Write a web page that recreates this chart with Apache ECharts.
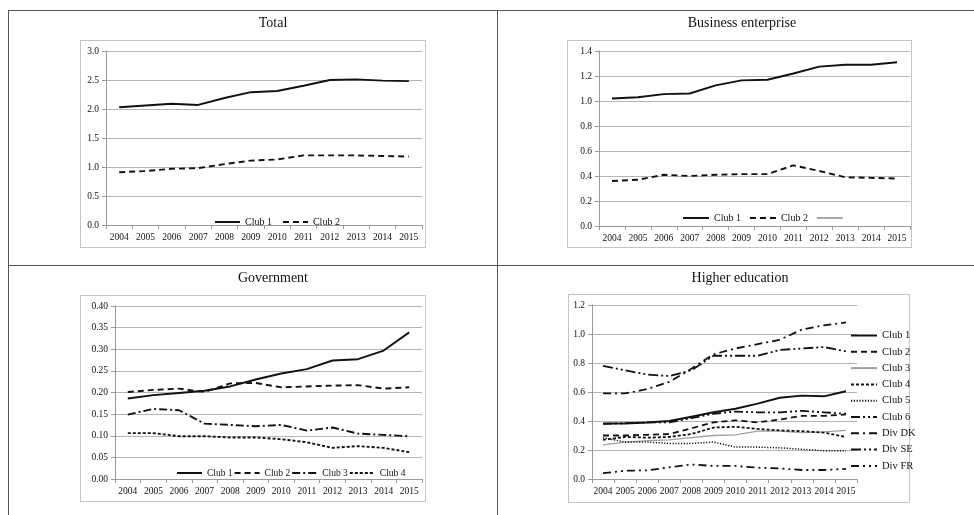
<!DOCTYPE html>
<html>
<head>
<meta charset="utf-8">
<script src="https://cdn.jsdelivr.net/npm/echarts@6/dist/echarts.min.js"></script>
<style>
  html, body { margin:0; padding:0; background:#fff; }
  #wrap { position:relative; width:974px; height:515px; overflow:hidden; background:#fff; }
  .chart { position:absolute; left:0; top:0; width:974px; height:515px; }
  .hl { position:absolute; height:0; border-top:1.5px solid #555; }
  .vl { position:absolute; width:0; border-left:1.5px solid #555; }
  .box { position:absolute; border:1px solid #c4c4c4; box-sizing:border-box; }
</style>
</head>
<body>
<div id="wrap">
  <div class="hl" style="left:9px; top:10px; width:965px;"></div>
  <div class="hl" style="left:9px; top:265px; width:965px;"></div>
  <div class="vl" style="left:8px; top:10px; height:505px;"></div>
  <div class="vl" style="left:497px; top:10px; height:505px;"></div>
  <div class="box" style="left:80px; top:40px; width:346px; height:208px;"></div>
  <div class="box" style="left:567px; top:40px; width:345px; height:208px;"></div>
  <div class="box" style="left:80px; top:295px; width:346px; height:207px;"></div>
  <div class="box" style="left:568px; top:294px; width:342px; height:209px;"></div>
  <div id="c1" class="chart"></div>
  <div id="c2" class="chart"></div>
  <div id="c3" class="chart"></div>
  <div id="c4" class="chart"></div>
</div>
<script>
// ---------- DATA ----------
const years = ['2004','2005','2006','2007','2008','2009','2010','2011','2012','2013','2014','2015'];

const totalClub1 = [2.03, 2.06, 2.09, 2.07, 2.19, 2.29, 2.31, 2.40, 2.50, 2.51, 2.49, 2.48];
const totalClub2 = [0.91, 0.93, 0.97, 0.98, 1.05, 1.11, 1.13, 1.20, 1.20, 1.20, 1.19, 1.18];

const busClub1 = [1.02, 1.03, 1.055, 1.06, 1.125, 1.165, 1.17, 1.22, 1.275, 1.29, 1.29, 1.31];
const busClub2 = [0.36, 0.37, 0.41, 0.40, 0.41, 0.415, 0.415, 0.485, 0.44, 0.39, 0.385, 0.38];

const govClub1 = [0.186, 0.194, 0.199, 0.204, 0.214, 0.230, 0.244, 0.254, 0.274, 0.277, 0.297, 0.339];
const govClub2 = [0.201, 0.206, 0.209, 0.201, 0.221, 0.222, 0.212, 0.214, 0.216, 0.217, 0.209, 0.212];
const govClub3 = [0.149, 0.162, 0.159, 0.128, 0.125, 0.122, 0.125, 0.112, 0.119, 0.105, 0.102, 0.099];
const govClub4 = [0.106, 0.106, 0.099, 0.099, 0.096, 0.096, 0.092, 0.085, 0.072, 0.076, 0.072, 0.062];

const heClub1 = [0.382, 0.383, 0.39, 0.40, 0.43, 0.46, 0.485, 0.52, 0.56, 0.575, 0.57, 0.605];
const heClub2 = [0.30, 0.30, 0.305, 0.31, 0.35, 0.39, 0.405, 0.39, 0.41, 0.435, 0.435, 0.445];
const heClub3 = [0.235, 0.255, 0.265, 0.27, 0.285, 0.30, 0.305, 0.33, 0.33, 0.32, 0.325, 0.335];
const heClub4 = [0.27, 0.29, 0.285, 0.29, 0.31, 0.355, 0.36, 0.345, 0.335, 0.33, 0.32, 0.29];
const heClub5 = [0.285, 0.255, 0.255, 0.245, 0.245, 0.255, 0.22, 0.22, 0.215, 0.205, 0.195, 0.195];
const heClub6 = [0.38, 0.385, 0.39, 0.39, 0.42, 0.45, 0.465, 0.46, 0.46, 0.47, 0.46, 0.45];
const heDivDK = [0.59, 0.59, 0.62, 0.67, 0.76, 0.86, 0.90, 0.93, 0.96, 1.03, 1.06, 1.08];
const heDivSE = [0.78, 0.75, 0.72, 0.71, 0.75, 0.85, 0.85, 0.85, 0.89, 0.90, 0.91, 0.88];
const heDivFR = [0.04, 0.057, 0.06, 0.08, 0.10, 0.09, 0.09, 0.078, 0.073, 0.062, 0.062, 0.07];

// ---------- STYLE HELPERS ----------
const FONT = 'Liberation Serif';
const BLACK = '#111';

function line(name, data, color, width, dash) {
  return {
    name: name, type: 'line', data: data, symbol: 'none', smooth: false,
    lineStyle: { color: color, width: width, type: dash || 'solid', cap: 'butt' },
    itemStyle: { color: color },
    emphasis: { disabled: true }, silent: true, animation: false
  };
}

function xAx(fs) {
  return {
    type: 'category', data: years, boundaryGap: true,
    axisLine: { lineStyle: { color: '#9a9a9a', width: 1 } },
    axisTick: { show: true, length: 4, lineStyle: { color: '#9a9a9a' } },
    axisLabel: { color: BLACK, fontFamily: FONT, fontSize: fs, margin: 7, interval: 0 },
    splitLine: { show: false }
  };
}

function yAx(max, interval, dec, fs) {
  return {
    type: 'value', min: 0, max: max, interval: interval,
    axisLine: { show: true, lineStyle: { color: '#9a9a9a', width: 1 } },
    axisTick: { show: true, length: 4, lineStyle: { color: '#9a9a9a' } },
    axisLabel: { color: BLACK, fontFamily: FONT, fontSize: fs, margin: 7,
                 formatter: v => v.toFixed(dec) },
    splitLine: { show: true, lineStyle: { color: '#b4b4b4', width: 1 } }
  };
}

function title(text, cx, top) {
  return { text: text, left: cx, top: top, textAlign: 'center',
           textStyle: { fontFamily: FONT, fontSize: 14, fontWeight: 'normal', color: BLACK } };
}

function legend(names, left, top, gap, orient, fs, iw) {
  return {
    data: names, left: left, top: top, orient: orient || 'horizontal',
    itemWidth: iw || 26, itemHeight: 10, itemGap: gap,
    selectedMode: false,
    itemStyle: { opacity: 0 },
    textStyle: { fontFamily: FONT, fontSize: fs || 10, color: BLACK }
  };
}

// ---------- TOTAL ----------
echarts.init(document.getElementById('c1'), null, { renderer: 'canvas' }).setOption({
  animation: false,
  title: title('Total', 268, 11),
  grid: { left: 106, top: 51, width: 316, height: 174 },
  xAxis: xAx(9.5),
  yAxis: yAx(3, 0.5, 1, 9.5),
  legend: legend(['Club 1', 'Club 2'], 209, 212, 10, 'horizontal', 10, 25),
  series: [
    line('Club 1', totalClub1, BLACK, 1.9),
    line('Club 2', totalClub2, BLACK, 1.9, [6, 4])
  ]
});

// ---------- BUSINESS ----------
echarts.init(document.getElementById('c2'), null, { renderer: 'canvas' }).setOption({
  animation: false,
  title: title('Business enterprise', 737, 11),
  grid: { left: 599, top: 51, width: 311, height: 175 },
  xAxis: xAx(9.5),
  yAxis: yAx(1.4, 0.2, 1, 9.5),
  legend: legend(['Club 1', 'Club 2', ' '], 677, 208, 8),
  series: [
    line('Club 1', busClub1, BLACK, 1.9),
    line('Club 2', busClub2, BLACK, 1.9, [6, 4]),
    line(' ', [], '#a8a8a8', 1.2)
  ]
});

// ---------- GOVERNMENT ----------
echarts.init(document.getElementById('c3'), null, { renderer: 'canvas' }).setOption({
  animation: false,
  title: title('Government', 268, 266),
  grid: { left: 115, top: 306, width: 307, height: 173 },
  xAxis: xAx(9.5),
  yAxis: yAx(0.4, 0.05, 2, 9.5),
  legend: legend(['Club 1', 'Club 2', 'Club 3', 'Club 4'], 171, 463, 1, 'horizontal', 9.5, 25),
  series: [
    line('Club 1', govClub1, BLACK, 1.9),
    line('Club 2', govClub2, BLACK, 1.9, [6, 4]),
    line('Club 3', govClub3, BLACK, 1.9, [8, 3, 2, 3]),
    line('Club 4', govClub4, BLACK, 1.9, [3, 2])
  ]
});

// ---------- HIGHER EDUCATION ----------
echarts.init(document.getElementById('c4'), null, { renderer: 'canvas' }).setOption({
  animation: false,
  title: title('Higher education', 735, 266),
  grid: { left: 592, top: 305, width: 265, height: 174 },
  xAxis: xAx(9.5),
  yAxis: yAx(1.2, 0.2, 1, 9.5),
  legend: legend(['Club 1','Club 2','Club 3','Club 4','Club 5','Club 6','Div DK','Div SE','Div FR'], 845, 325, 5.3, 'vertical', 10.5),
  series: [
    line('Club 1', heClub1, BLACK, 2),
    line('Club 2', heClub2, BLACK, 1.8, [6, 4]),
    line('Club 3', heClub3, '#a0a0a0', 1.3),
    line('Club 4', heClub4, BLACK, 1.8, [3, 2]),
    line('Club 5', heClub5, BLACK, 1.5, [1.2, 1.6]),
    line('Club 6', heClub6, BLACK, 1.8, [9, 3, 2, 3, 2, 3]),
    line('Div DK', heDivDK, BLACK, 1.8, [8, 4, 2, 4]),
    line('Div SE', heDivSE, BLACK, 1.8, [10, 3, 2, 3, 2, 3]),
    line('Div FR', heDivFR, BLACK, 1.8, [8, 4, 2, 4, 2, 4])
  ]
});
</script>
</body>
</html>
